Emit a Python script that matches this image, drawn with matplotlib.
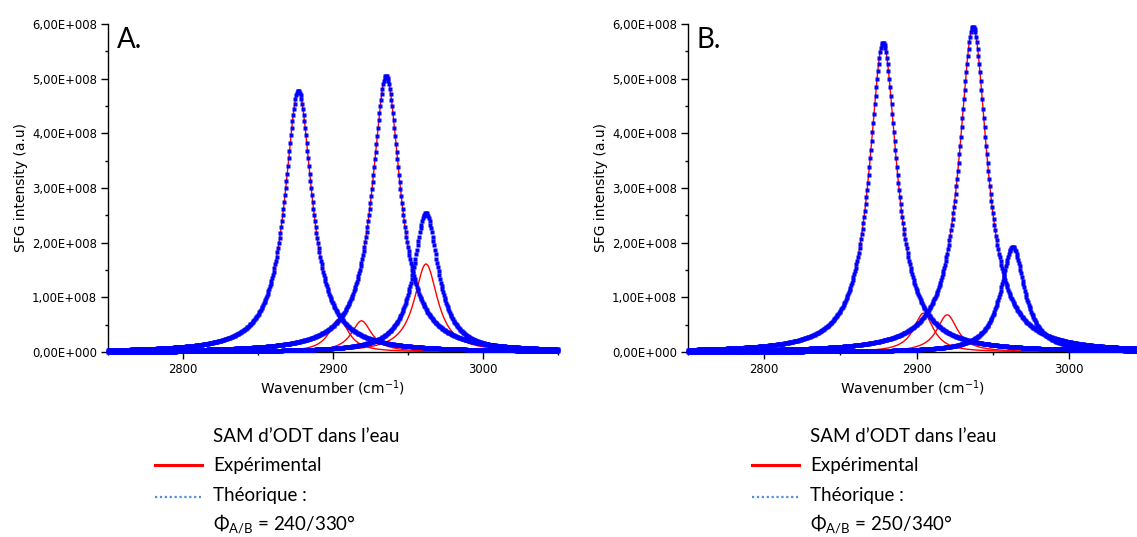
import numpy as np
import matplotlib.pyplot as plt
from matplotlib.lines import Line2D
from matplotlib.ticker import FuncFormatter, MultipleLocator

plt.rcParams['font.family'] = ['DejaVu Sans']
plt.rcParams['mathtext.fontset'] = 'custom'
plt.rcParams['mathtext.rm'] = 'Lato'

# peak parameters: centre (cm-1), height (a.u), half width (cm-1)
blue_A_pos = [2877, 2935.5, 2962]
blue_A_amp = [4.78e8, 5.05e8, 2.54e8]
blue_A_wid = [11.0, 11.4, 10.0]
red_A_pos = [2877, 2935.5, 2962, 2904, 2919]
red_A_amp = [4.78e8, 5.05e8, 1.61e8, 0.60e8, 0.57e8]
red_A_wid = [11.0, 11.4, 9.5, 8.0, 8.3]

blue_B_pos = [2878, 2937, 2963]
blue_B_amp = [5.66e8, 5.95e8, 1.92e8]
blue_B_wid = [11.0, 11.2, 9.5]
red_B_pos = [2878, 2937, 2963, 2904.5, 2920]
red_B_amp = [5.66e8, 5.95e8, 1.92e8, 0.71e8, 0.68e8]
red_B_wid = [11.0, 11.2, 9.5, 8.0, 8.3]

panel_labels = ['A.', 'B.']
phase_labels = ['240/330°', '250/340°']
y_ticks = [0, 1e8, 2e8, 3e8, 4e8, 5e8, 6e8]
x_ticks = [2800, 2900, 3000]

W, H = 1137, 537
fig = plt.figure(figsize=(W / 100, H / 100), dpi=100)


def px(x0, y0, w, h):
    # pixel box (top-left origin) -> figure fraction
    return [x0 / W, 1 - (y0 + h) / H, w / W, h / H]


def lorentz(x, c, a, g):
    return a * g**2 / ((x - c)**2 + g**2)


def fmt(v, pos):
    if v == 0:
        return '0,00E+000'
    return ('%.2f' % (v / 1e8)).replace('.', ',') + 'E+008'


axes = [fig.add_axes(px(108, 24, 450, 328)), fig.add_axes(px(688, 24, 449, 328))]
xlims = [(2750, 3050), (2750, 3044.5)]
params = [(blue_A_pos, blue_A_amp, blue_A_wid, red_A_pos, red_A_amp, red_A_wid),
          (blue_B_pos, blue_B_amp, blue_B_wid, red_B_pos, red_B_amp, red_B_wid)]

for i, ax in enumerate(axes):
    bp, ba, bw, rp, ra, rw = params[i]
    x = np.arange(xlims[i][0], xlims[i][1] + 0.01, 0.5)
    for c, a, g in zip(rp, ra, rw):
        ax.plot(x, lorentz(x, c, a, g), color='#ff0000', lw=1.0, zorder=2)
    for c, a, g in zip(bp, ba, bw):
        ax.plot(x, lorentz(x, c, a, g), ls='none', marker='s', ms=2.7,
                mec='none', mfc='#0000ff', zorder=3, clip_on=False)
    ax.set_xlim(*xlims[i])
    ax.set_ylim(0, 6e8)
    ax.set_yticks(y_ticks)
    ax.set_xticks(x_ticks)
    ax.yaxis.set_minor_locator(MultipleLocator(0.5e8))
    ax.xaxis.set_minor_locator(MultipleLocator(50))
    ax.yaxis.set_major_formatter(FuncFormatter(fmt))
    for s in ['top', 'right']:
        ax.spines[s].set_visible(False)
    for s in ['left', 'bottom']:
        ax.spines[s].set_linewidth(1.0)
    ax.tick_params(which='major', direction='out', length=5, width=1, labelsize=8.4, pad=3)
    ax.tick_params(which='minor', direction='out', length=2.5, width=1)
    ax.set_ylabel('SFG intensity (a.u)', fontsize=10, labelpad=3)
    ax.set_xlabel('Wavenumber (cm$^{\\mathregular{-1}}$)', fontsize=10, labelpad=2)
    ax.text(0.02, 0.99, panel_labels[i], transform=ax.transAxes, fontsize=20,
            family='Lato', va='top', ha='left')

# legends drawn under each panel
for i, dx in enumerate([0, 597]):
    def fy(y):
        return 1 - y / H
    fig.text((213 + dx) / W, fy(436), 'SAM d\u2019ODT dans l\u2019eau', family='Lato',
             fontsize=13.5, va='center', ha='left')
    fig.add_artist(Line2D([(155 + dx) / W, (202 + dx) / W], [fy(465), fy(465)],
                          color='#ff0000', lw=2.2))
    fig.text((213 + dx) / W, fy(466), 'Expérimental', family='Lato',
             fontsize=13.5, va='center', ha='left')
    fig.add_artist(Line2D([(155 + dx) / W, (201 + dx) / W], [fy(497), fy(497)],
                          color='#4f8fdf', lw=1.6, ls=(0, (1, 1.2))))
    fig.text((213 + dx) / W, fy(496), 'Théorique :', family='Lato',
             fontsize=13.5, va='center', ha='left')
    fig.text((213 + dx) / W, fy(524),
             '$\\mathregular{\u03a6_{A/B}}$ = ' + phase_labels[i],
             family='Lato', fontsize=13.5, va='center', ha='left')

fig.savefig('out.png', dpi=100)
